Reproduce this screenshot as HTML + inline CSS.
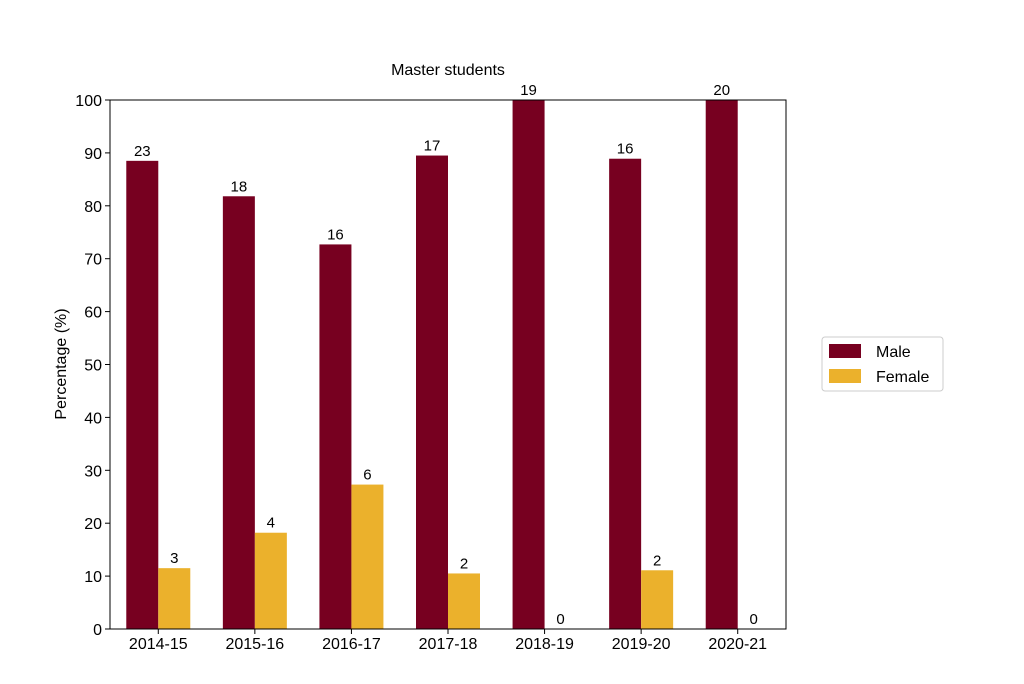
<!DOCTYPE html>
<html><head><meta charset="utf-8"><style>
body{margin:0;background:#fff;width:1024px;height:679px;overflow:hidden}
svg{font-family:"Liberation Sans","DejaVu Sans",sans-serif}
</style></head><body>
<svg id="chart" width="1024" height="679">
<rect width="1024" height="679" fill="#fff"/>
<text x="448" y="75" font-size="16" text-anchor="middle" fill="#000">Master students</text>
<text x="0" y="0" font-size="16" text-anchor="middle" transform="translate(66,364) rotate(-90)">Percentage (%)</text>
<g id="bars"></g>
<g id="axes"></g>
<g>
<rect x="822" y="337" width="121" height="54" fill="#fff" stroke="#ccc" rx="3"/>
<rect x="829" y="344" width="32" height="14" fill="#770020"/>
<text x="876" y="357" font-size="16">Male</text>
<rect x="829" y="369" width="32" height="14" fill="#ebb12c"/>
<text x="876" y="382" font-size="16">Female</text>
</g>
</svg>
<script>
const categories=["2014-15","2015-16","2016-17","2017-18","2018-19","2019-20","2020-21"];
const maleValues=[88.5,81.8,72.7,89.5,100,88.9,100];
const femaleValues=[11.5,18.2,27.3,10.5,0,11.1,0];
const maleCounts=[23,18,16,17,19,16,20];
const femaleCounts=[3,4,6,2,0,2,0];
const yTicks=[0,10,20,30,40,50,60,70,80,90,100];
const NS="http://www.w3.org/2000/svg";
const L=110,R=786,T=100,B=629;
const y=v=>B-(v/100)*(B-T);
const step=(R-L)/categories.length;
const cx=i=>L+step*(i+0.5);
const bw=32;
function mk(tag,attrs,parent){const e=document.createElementNS(NS,tag);for(const k in attrs)e.setAttribute(k,attrs[k]);parent.appendChild(e);return e;}
const bars=document.getElementById('bars'),axes=document.getElementById('axes');
categories.forEach((c,i)=>{
 const m=mk('rect',{x:cx(i)-bw,y:y(maleValues[i]),width:bw,height:B-y(maleValues[i]),fill:'#770020'},bars);
 
 
 const f=mk('rect',{x:cx(i),y:y(femaleValues[i]),width:bw,height:B-y(femaleValues[i]),fill:'#ebb12c'},bars);
 
 
 const mt=mk('text',{x:cx(i)-bw/2,y:y(maleValues[i])-5,'font-size':15,'text-anchor':'middle'},bars);mt.textContent=maleCounts[i];
 
 
 const ft=mk('text',{x:cx(i)+bw/2,y:y(femaleValues[i])-5,'font-size':15,'text-anchor':'middle'},bars);ft.textContent=femaleCounts[i];
 
 
 mk('line',{x1:cx(i),x2:cx(i),y1:B,y2:B+5,stroke:'#000'},axes);
 const xt=mk('text',{x:cx(i),y:B+20,'font-size':16,'text-anchor':'middle'},axes);xt.textContent=c;
 
 
});
yTicks.forEach(v=>{
 mk('line',{x1:L-5,x2:L,y1:y(v),y2:y(v),stroke:'#000'},axes);
 const t=mk('text',{x:L-8,y:y(v)+6,'font-size':16,'text-anchor':'end'},axes);t.textContent=v;
 
 
});
const fr=mk('rect',{x:L,y:T,width:R-L,height:B-T,fill:'none',stroke:'#000','stroke-width':1},axes);


</script>
</body></html>
